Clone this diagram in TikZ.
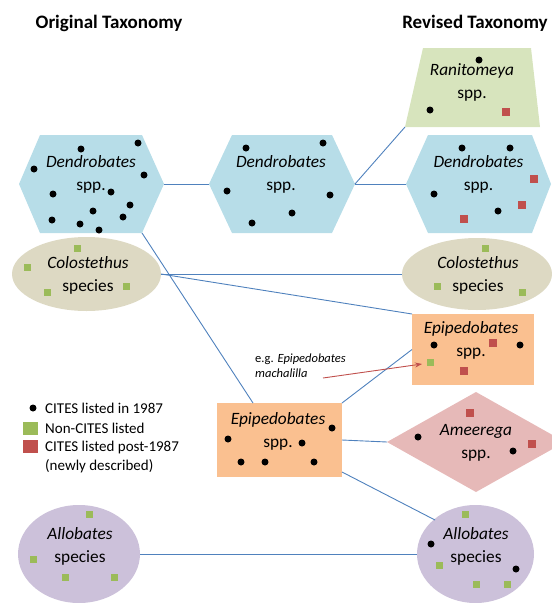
\documentclass[tikz,border=0pt]{standalone}
\usepackage{fontspec}
\setmainfont{Carlito}
\usetikzlibrary{shapes.geometric,arrows.meta}
\definecolor{hexblue}{HTML}{B7DDE8}
\definecolor{ranigreen}{HTML}{D7E4BD}
\definecolor{colbeige}{HTML}{DDD9C3}
\definecolor{epiorange}{HTML}{FAC090}
\definecolor{amepink}{HTML}{E6B9B8}
\definecolor{allopurple}{HTML}{CCC1DA}
\definecolor{linkblue}{HTML}{4F81BD}
\definecolor{sqgreen}{HTML}{9BBB59}
\definecolor{sqred}{HTML}{C0504D}
\begin{document}
\begin{tikzpicture}[x=1pt,y=-1pt,
  conn/.style={draw=linkblue,line width=0.9pt},
  dot/.style={circle,fill=black,inner sep=0pt,minimum size=7pt},
  gsq/.style={rectangle,fill=sqgreen,inner sep=0pt,minimum size=7pt},
  rsq/.style={rectangle,fill=sqred,inner sep=0pt,minimum size=7.5pt},
  lbl/.style={align=center,inner sep=0pt,font=\fontsize{17.3}{23}\selectfont},
  hdr/.style={inner sep=0pt,font=\fontsize{19}{22}\selectfont\bfseries},
  leg/.style={anchor=west,inner sep=0pt,font=\fontsize{15}{18}\selectfont},
  blob/.style={inner sep=0pt,outer sep=0pt}]
\path[use as bounding box] (0,0) rectangle (552,603);
\clip (0,0) rectangle (552,603);

% headers
\node[hdr] (h1) at (109,23) {Original Taxonomy};
\node[hdr] (h2) at (475,23) {Revised Taxonomy};

% shapes
\fill[ranigreen] (423,48) -- (531,48) -- (540,127) -- (405,127) coordinate (raBL) -- cycle;
\fill[hexblue] (19,184) coordinate (odL) -- (40,135) -- (142,135) -- (164,184) coordinate (odR) -- (142,233) coordinate (odBR) -- (40,233) -- cycle;
\fill[hexblue] (209,184) coordinate (mdL) -- (232,135) -- (332,135) -- (355,184) coordinate (mdR) -- (332,233) -- (232,233) -- cycle;
\fill[hexblue] (406,184) coordinate (rdL) -- (428,135) -- (532,135) -- (551,184) coordinate (rdR) -- (532,233) -- (428,233) -- cycle;
\node[blob,ellipse,fill=colbeige,minimum width=149pt,minimum height=74pt] (colL) at (86.5,274) {};
\node[blob,ellipse,fill=colbeige,minimum width=150pt,minimum height=72pt] (colR) at (477,274) {};
\node[blob,rectangle,fill=epiorange,minimum width=122pt,minimum height=71pt] (reR) at (473,349.5) {};
\node[blob,rectangle,fill=epiorange,minimum width=125pt,minimum height=74pt] (oe) at (279.5,440) {};
\fill[amepink] (387,442) coordinate (amL) -- (476,392) -- (565,442) -- (476,492) -- cycle;
\node[blob,ellipse,fill=allopurple,minimum width=122pt,minimum height=98pt] (alL) at (79,554) {};
\node[blob,ellipse,fill=allopurple,minimum width=117pt,minimum height=98pt] (alR) at (475.5,554) {};

% connector end points
\coordinate (oeSE) at (342,472);
\coordinate (alRp) at (435,520);
\coordinate (oeTop) at (253,403);
\coordinate (reNW) at (reR.north west);
\coordinate (egT) at (323,378);
\coordinate (egH) at (422,364);

% connectors
\draw[conn] (odR) -- (mdL);
\draw[conn] (mdR) -- (raBL);
\draw[conn] (mdR) -- (rdL);
\draw[conn] (odBR) -- (oeTop);
\draw[conn] (colL.east) -- (colR.west);
\draw[conn] (colL.east) -- (reNW);
\draw[conn] (oe.north east) -- (reR.west);
\draw[conn] (oe.east) -- (amL);
\draw[conn] (oeSE) -- (alRp);
\draw[conn] (alL.east) -- (alR.west);
\draw[draw=sqred,line width=0.9pt,-{Stealth[length=7pt,width=5pt]}] (egT) -- (egH);

% labels
\node[lbl] (raT) at (472,82.5) {\textit{Ranitomeya}\\spp.};
\node[lbl] (odT) at (91,174) {\textit{Dendrobates}\\spp.};
\node[lbl] (mdT) at (281,174) {\textit{Dendrobates}\\spp.};
\node[lbl] (rdT) at (478.5,174) {\textit{Dendrobates}\\spp.};
\node[lbl] (colLT) at (88,275) {\textit{Colostethus}\\species};
\node[lbl] (colRT) at (478,275) {\textit{Colostethus}\\species};
\node[lbl] (reT) at (471,340) {\textit{Epipedobates}\\spp.};
\node[lbl] (oeT) at (278,431) {\textit{Epipedobates}\\spp.};
\node[lbl] (amT) at (476,443) {\textit{Ameerega}\\spp.};
\node[lbl] (alLT) at (80,546) {\textit{Allobates}\\species};
\node[lbl] (alRT) at (476,546) {\textit{Allobates}\\species};
\node[anchor=west,align=left,inner sep=0pt,font=\fontsize{12.5}{15}\selectfont] (eg) at (255,365.5) {e.g. \textit{Epipedobates}\\\textit{machalilla}};

% dots and squares
\foreach \px/\py [count=\i] in {81/149,138/143,34/169,144/175,53/194,111/192,130/205,93/211,123/217,52/220,80/224,99/230}
  \node[dot] (odd\i) at (\px,\py) {};
\foreach \px/\py [count=\i] in {246/148,323/143,227/191,330/195,292/213,252/223}
  \node[dot] (mdd\i) at (\px,\py) {};
\foreach \px/\py [count=\i] in {462/148,510/148,434/194,498/211}
  \node[dot] (rdd\i) at (\px,\py) {};
\foreach \px/\py [count=\i] in {534/179,522/205,464/219}
  \node[rsq] (rdr\i) at (\px,\py) {};
\foreach \px/\py [count=\i] in {479/60,430/110}
  \node[dot] (rad\i) at (\px,\py) {};
\node[rsq] (rar1) at (506,112) {};
\foreach \px/\py [count=\i] in {77/248,27/267,47/292,126/286}
  \node[gsq] (clg\i) at (\px,\py) {};
\foreach \px/\py [count=\i] in {485/248,437/286,522/292}
  \node[gsq] (crg\i) at (\px,\py) {};
\foreach \px/\py [count=\i] in {434/345,520/345}
  \node[dot] (red\i) at (\px,\py) {};
\foreach \px/\py [count=\i] in {493/343,464/371}
  \node[rsq] (rer\i) at (\px,\py) {};
\node[gsq] (reg1) at (430,362) {};
\foreach \px/\py [count=\i] in {332/428,228/439,302/443,241/462,265/462,314/462}
  \node[dot] (oed\i) at (\px,\py) {};
\foreach \px/\py [count=\i] in {418/437,513/451}
  \node[dot] (amd\i) at (\px,\py) {};
\foreach \px/\py [count=\i] in {470/413,532/444}
  \node[rsq] (amr\i) at (\px,\py) {};
\foreach \px/\py [count=\i] in {89/514,33/559,65/577,114/577}
  \node[gsq] (alg\i) at (\px,\py) {};
\foreach \px/\py [count=\i] in {465/514,439/565,476/584,507/584}
  \node[gsq] (arg\i) at (\px,\py) {};
\foreach \px/\py [count=\i] in {431/544,516/569}
  \node[dot] (ard\i) at (\px,\py) {};

% legend
\node[dot] (lgd) at (33,408) {};
\node[leg] (lg1) at (45,408) {CITES listed in 1987};
\node[blob,fill=sqgreen,minimum width=15pt,minimum height=13pt] (lgg) at (30.5,428.5) {};
\node[leg] (lg2) at (45,428) {Non-CITES listed};
\node[blob,fill=sqred,minimum width=15pt,minimum height=13pt] (lgr) at (30.5,446.5) {};
\node[leg,align=left] (lg3) at (45,456.5) {CITES listed post-1987\\[1pt](newly described)};
\end{tikzpicture}
\end{document}
